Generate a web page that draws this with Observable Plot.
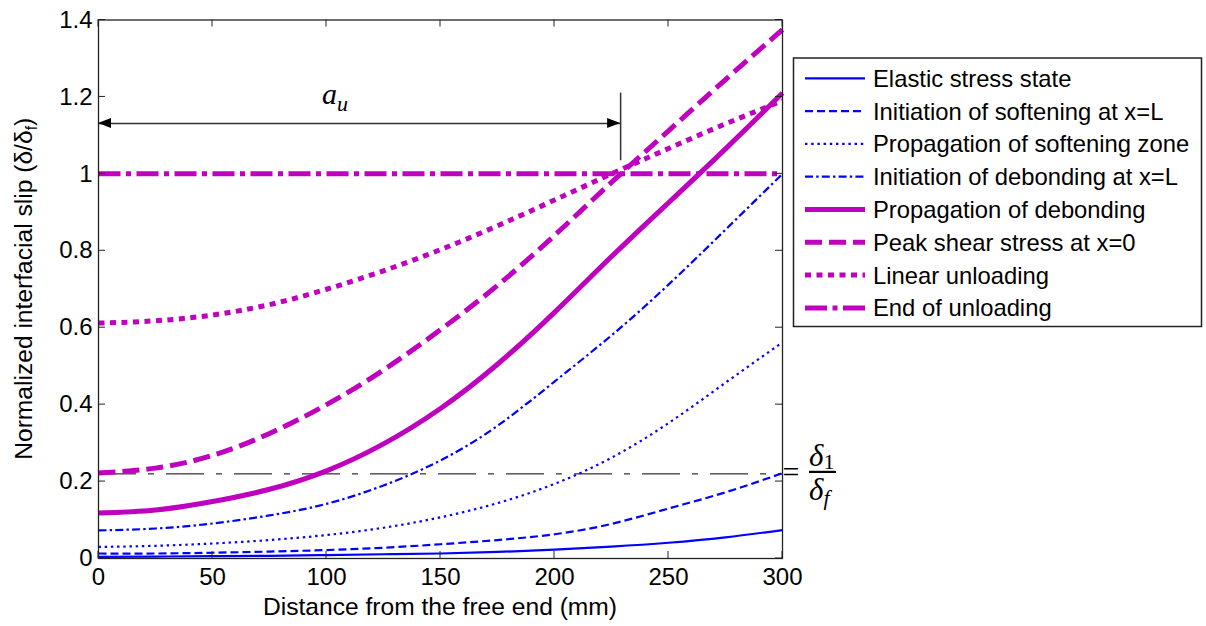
<!DOCTYPE html>
<html>
<head>
<meta charset="utf-8">
<script src="https://cdn.jsdelivr.net/npm/d3@7"></script>
<script src="https://cdn.jsdelivr.net/npm/@observablehq/plot@0.6"></script>
<style>
  html, body { margin: 0; padding: 0; background: #fff; }
  #chart { width: 1206px; height: 626px; }
</style>
</head>
<body>
<div id="chart"></div>
<script>
// ---------------- data ----------------
const distance = [0, 25, 50, 75, 100, 125, 150, 175, 200, 225, 250, 275, 300];
const elasticStress      = [0.004, 0.005, 0.006, 0.007, 0.009, 0.011, 0.013, 0.017, 0.023, 0.031, 0.041, 0.055, 0.074];
const initSoftening      = [0.013, 0.013, 0.015, 0.018, 0.022, 0.028, 0.037, 0.048, 0.063, 0.090, 0.130, 0.172, 0.222];
const propSoftening      = [0.030, 0.033, 0.039, 0.048, 0.061, 0.080, 0.107, 0.144, 0.194, 0.262, 0.352, 0.457, 0.562];
const initDebonding      = [0.073, 0.078, 0.091, 0.112, 0.142, 0.190, 0.255, 0.345, 0.460, 0.580, 0.712, 0.855, 1.000];
const propDebonding      = [0.118, 0.126, 0.148, 0.180, 0.228, 0.298, 0.390, 0.505, 0.640, 0.785, 0.925, 1.065, 1.210];
const peakShear          = [0.222, 0.235, 0.268, 0.325, 0.400, 0.490, 0.595, 0.710, 0.840, 0.978, 1.112, 1.245, 1.375];
const linearUnloading    = [0.612, 0.618, 0.633, 0.660, 0.700, 0.748, 0.803, 0.865, 0.932, 1.000, 1.066, 1.130, 1.190];
const endUnloading       = [1.0, 1.0, 1.0, 1.0, 1.0, 1.0, 1.0, 1.0, 1.0, 1.0, 1.0, 1.0, 1.0];

const seriesLabels = [
  "Elastic stress state",
  "Initiation of softening at x=L",
  "Propagation of softening zone",
  "Initiation of debonding at x=L",
  "Propagation of debonding",
  "Peak shear stress at x=0",
  "Linear unloading",
  "End of unloading"
];
const seriesValues = [elasticStress, initSoftening, propSoftening, initDebonding,
                      propDebonding, peakShear, linearUnloading, endUnloading];

const xTicks = [0, 50, 100, 150, 200, 250, 300];
const yTicks = [0, 0.2, 0.4, 0.6, 0.8, 1, 1.2, 1.4];
const xLabel = "Distance from the free end (mm)";
const yLabelMain = "Normalized interfacial slip (\u03B4/\u03B4";
const yLabelSub = "f";
const yLabelEnd = ")";

const refLevel = 0.22;          // delta1 / deltaf
const auStart = 0, auEnd = 229; // a_u extent (mm)
const auLevel = 1.131;
const auTickRange = [1.034, 1.21];

// ---------------- styles ----------------
const BLUE = "#0000ff", MAG = "#bf00bf";
const styles = [
  {stroke: BLUE, width: 2.2, dash: null},
  {stroke: BLUE, width: 2.2, dash: "8,4"},
  {stroke: BLUE, width: 2.2, dash: "2.4,3.8"},
  {stroke: BLUE, width: 2.2, dash: "8,3.2,2.4,3.2"},
  {stroke: MAG,  width: 5,   dash: null},
  {stroke: MAG,  width: 5,   dash: "17,7"},
  {stroke: MAG,  width: 5,   dash: "6,5.5"},
  {stroke: MAG,  width: 5,   dash: "22,5.5,5,5.5"}
];
const SANS = "'Liberation Sans', Arial, Helvetica, sans-serif";
const SERIF = "'Liberation Serif', 'Times New Roman', serif";

const marks = [];
marks.push(Plot.ruleY([refLevel], {stroke: "#000", strokeWidth: 1, strokeDasharray: "38,12,6,12"}));
seriesValues.forEach((vals, i) => {
  const rows = distance.map((x, j) => ({x, y: vals[j], series: seriesLabels[i]}));
  const s = styles[i];
  marks.push(Plot.line(rows, {
    x: "x", y: "y",
    stroke: s.stroke, strokeWidth: s.width,
    strokeDasharray: s.dash ?? undefined,
    strokeLinecap: "butt", strokeLinejoin: "round",
    curve: "natural"
  }));
});
marks.push(Plot.ruleY([auLevel], {x1: auStart, x2: auEnd, stroke: "#333", strokeWidth: 1.5}));
marks.push(Plot.ruleX([auEnd], {y1: auTickRange[0], y2: auTickRange[1], stroke: "#333", strokeWidth: 1.5}));
marks.push(Plot.frame({stroke: "#222", strokeWidth: 1.3}));

const chart = Plot.plot({
  width: 1206,
  height: 626,
  marginLeft: 98,
  marginRight: 424,
  marginTop: 19.5,
  marginBottom: 68,
  style: {fontFamily: SANS, fontSize: "24px", color: "#000", background: "#fff", overflow: "visible"},
  x: {domain: [0, 300], ticks: xTicks, tickSize: 0, tickPadding: 9, label: null, tickFormat: d => String(d)},
  y: {domain: [0, 1.4], ticks: yTicks, tickSize: 0, tickPadding: 6, label: null, tickFormat: d => String(d)},
  marks
});

document.getElementById("chart").appendChild(chart);

// ---------------- post-processing (ticks, labels, annotations, legend) ----------------
const sx = chart.scale("x"), sy = chart.scale("y");
const svg = d3.select(chart);
const X = v => sx.apply(v), Y = v => sy.apply(v);
const g = svg.append("g").attr("text-anchor", "start");
const TL = 7;
xTicks.forEach(t => {
  g.append("line").attr("x1", X(t)).attr("x2", X(t)).attr("y1", Y(0)).attr("y2", Y(0) - TL).attr("stroke", "#222");
  g.append("line").attr("x1", X(t)).attr("x2", X(t)).attr("y1", Y(1.4)).attr("y2", Y(1.4) + TL).attr("stroke", "#222");
});
yTicks.forEach(t => {
  g.append("line").attr("x1", X(0)).attr("x2", X(0) + TL).attr("y1", Y(t)).attr("y2", Y(t)).attr("stroke", "#222");
  g.append("line").attr("x1", X(300)).attr("x2", X(300) - TL).attr("y1", Y(t)).attr("y2", Y(t)).attr("stroke", "#222");
});

// axis labels
g.append("text").attr("x", (X(0) + X(300)) / 2).attr("y", 615)
  .attr("text-anchor", "middle").attr("font-family", SANS).attr("font-size", 24.6).attr("fill", "#000")
  .text(xLabel);
const yl = g.append("text")
  .attr("transform", `translate(31.5,${(Y(0) + Y(1.4)) / 2}) rotate(-90)`)
  .attr("text-anchor", "middle").attr("font-family", SANS).attr("font-size", 24.6).attr("fill", "#000");
yl.append("tspan").text(yLabelMain);
yl.append("tspan").attr("font-size", 16).attr("dy", 5).text(yLabelSub);
yl.append("tspan").attr("dy", -5).text(yLabelEnd);

// arrowheads for a_u
const ay = Y(auLevel);
const head = (tipX, dir) => {
  const L = 13, W = 5;
  g.append("path")
    .attr("d", `M${tipX},${ay} L${tipX - dir * L},${ay - W} L${tipX - dir * L},${ay + W} Z`)
    .attr("fill", "#000");
};
head(X(auStart), -1);
head(X(auEnd), 1);

// a_u label
const au = g.append("text").attr("x", 322).attr("y", 104).attr("text-anchor", "start")
  .attr("font-family", SERIF).attr("font-style", "italic").attr("font-size", 30).attr("fill", "#000");
au.append("tspan").text("a");
au.append("tspan").attr("font-size", 22).attr("dy", 7).text("u");

// = delta1/deltaf label
const ry = Y(refLevel);
g.append("text").attr("x", X(300) + 0.5).attr("y", ry + 8.5).attr("text-anchor", "start")
  .attr("font-family", SERIF).attr("font-size", 30).attr("fill", "#000").text("=");
const num = g.append("text").attr("x", 809).attr("y", ry - 7).attr("text-anchor", "start")
  .attr("font-family", SERIF).attr("font-size", 31).attr("fill", "#000");
num.append("tspan").attr("font-style", "italic").text("\u03B4");
num.append("tspan").attr("font-size", 22).attr("dy", 3).text("1");
g.append("line").attr("x1", 809).attr("x2", 836).attr("y1", ry - 1.5).attr("y2", ry - 1.5)
  .attr("stroke", "#000").attr("stroke-width", 2.2);
const den = g.append("text").attr("x", 809).attr("y", ry + 27).attr("text-anchor", "start")
  .attr("font-family", SERIF).attr("font-size", 31).attr("fill", "#000");
den.append("tspan").attr("font-style", "italic").text("\u03B4");
den.append("tspan").attr("font-size", 22).attr("font-style", "italic").attr("dy", 5).text("f");

// legend
const lg = svg.append("g").attr("text-anchor", "start");
lg.append("rect").attr("x", 793.5).attr("y", 58).attr("width", 408).attr("height", 268.5)
  .attr("fill", "#fff").attr("stroke", "#222").attr("stroke-width", 1.5);
seriesLabels.forEach((lab, i) => {
  const cy = 78.3 + i * 32.8;
  const s = styles[i];
  lg.append("line").attr("x1", 805).attr("x2", 865).attr("y1", cy).attr("y2", cy)
    .attr("stroke", s.stroke).attr("stroke-width", s.width)
    .attr("stroke-dasharray", s.dash).attr("stroke-linecap", "butt");
  lg.append("text").attr("x", 873).attr("y", cy + 8.5).attr("text-anchor", "start")
    .attr("font-family", SANS).attr("font-size", 23.8).attr("fill", "#000").text(lab);
});
</script>
</body>
</html>
